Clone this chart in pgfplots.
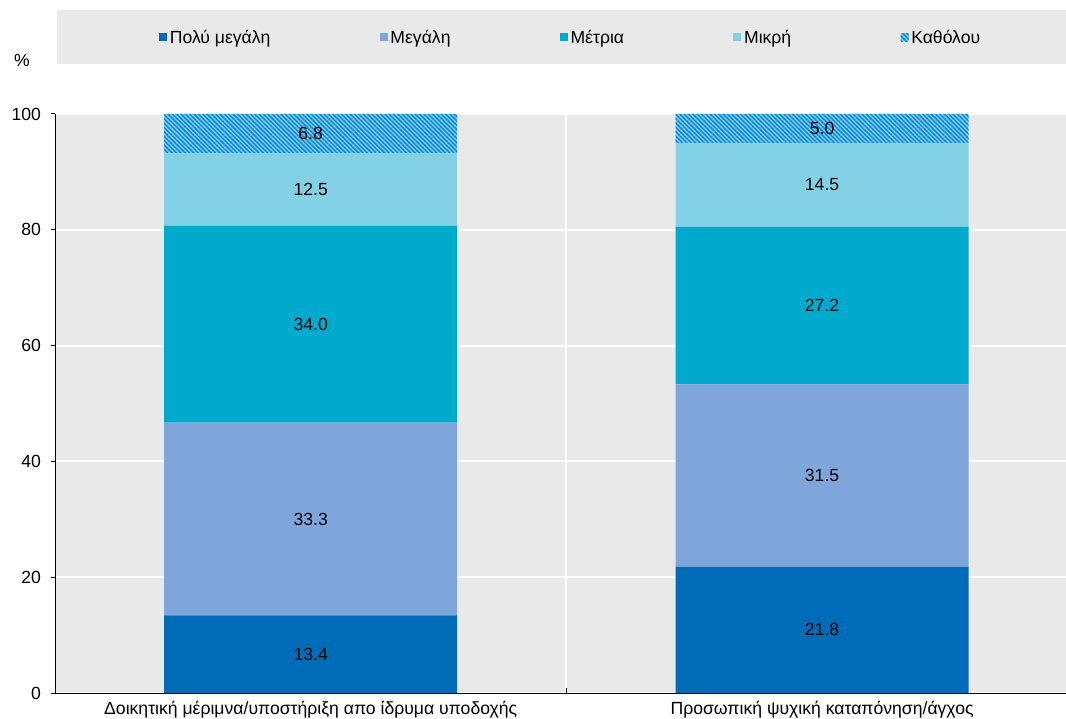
\documentclass[border=0pt]{standalone}
\usepackage{fontspec}
\setmainfont{Liberation Sans}
\usepackage{pgfplots}
\pgfplotsset{compat=1.18}
\usepackage{pgfplotstable}
\usetikzlibrary{patterns.meta}
\definecolor{cA}{HTML}{006BB6}
\definecolor{cB}{HTML}{7FA6DA}
\definecolor{cC}{HTML}{00AACC}
\definecolor{cD}{HTML}{83D1E5}
\definecolor{cEfg}{HTML}{0A88D6}
\definecolor{cEbg}{HTML}{80CDEA}
\definecolor{bgrey}{HTML}{E9E9E9}
\pgfplotsset{
  /pgfplots/layers/barsbelow/.define layer set={
    axis background,axis grid,main,axis ticks,axis lines,
    axis tick labels,axis descriptions,axis foreground
  }{/pgfplots/layers/standard},
}
\pgfplotstableread{
x v
0 13.4
1 21.8
}\tA
\pgfplotstableread{
x v
0 33.3
1 31.5
}\tB
\pgfplotstableread{
x v
0 34.0
1 27.2
}\tC
\pgfplotstableread{
x v
0 12.5
1 14.5
}\tD
\pgfplotstableread{
x v
0 6.8
1 5.0
}\tE
\begin{document}
\begin{tikzpicture}[font=\fontsize{13.2}{15.8}\selectfont]
\fill[bgrey] (1.5pt,471.75pt) rectangle (758.25pt,512.25pt);
\begin{axis}[
  set layers=barsbelow,
  at={(0pt,0pt)}, anchor=south west,
  scale only axis, width=758.25pt, height=434.25pt,
  xmin=-0.5, xmax=1.477, ymin=0, ymax=100,
  ybar stacked, bar width=219.75pt,
  axis background/.style={fill=bgrey},
  axis x line*=bottom, axis y line*=left,
  axis line style={black, line width=0.75pt},
  xtick={0,1},
  xticklabels={Δοικητική μέριμνα/υποστήριξη απο ίδρυμα υποδοχής, Προσωπική ψυχική καταπόνηση/άγχος},
  minor xtick={0.5},
  major x tick style={draw=none},
  minor x tick style={black, line width=0.75pt},
  minor tick length=3.75pt,
  major tick length=3pt,
  xtick align=inside, ytick align=outside,
  ytick={0,20,40,60,80,100},
  y tick style={black, line width=0.75pt},
  ymajorgrids, xminorgrids,
  grid style={white, line width=1.5pt},
  /pgf/number format/assume math mode=true,
  yticklabel style={xshift=-4pt},
  xticklabel style={yshift=-3pt},
  nodes near coords,
  point meta=explicit symbolic,
  every node near coord/.append style={anchor=center, black},
  legend columns=5,
  legend style={at={(0.5104,1.1313)}, anchor=center, draw=none, fill=none,
    /tikz/every odd column/.style={column sep=0pt},
    /tikz/every even column/.style={column sep=80pt}},
  legend image code/.code={\path[#1, draw=none] (0pt,-2.4pt) rectangle (6pt,3.6pt);},
]
\addplot[fill=cA, draw=none] table[x=x, y=v, meta=v] {\tA};
\addlegendentry{Πολύ μεγάλη}
\addplot[fill=cB, draw=none] table[x=x, y=v, meta=v] {\tB};
\addlegendentry{Μεγάλη}
\addplot[fill=cC, draw=none] table[x=x, y=v, meta=v] {\tC};
\addlegendentry{Μέτρια}
\addplot[fill=cD, draw=none] table[x=x, y=v, meta=v] {\tD};
\addlegendentry{Μικρή}
\addplot[fill=cEbg, draw=none, postaction={pattern={Lines[angle=-45,distance=2.3pt,line width=1.1pt]}, pattern color=cEfg}] table[x=x, y=v, meta=v] {\tE};
\addlegendentry{Καθόλου}
\end{axis}
\node at (-24.75pt,474.75pt) {\%};
\pgfresetboundingbox
\path[use as bounding box] (-41.25pt,-18.75pt) rectangle (758.25pt,519.75pt);
\end{tikzpicture}
\end{document}
